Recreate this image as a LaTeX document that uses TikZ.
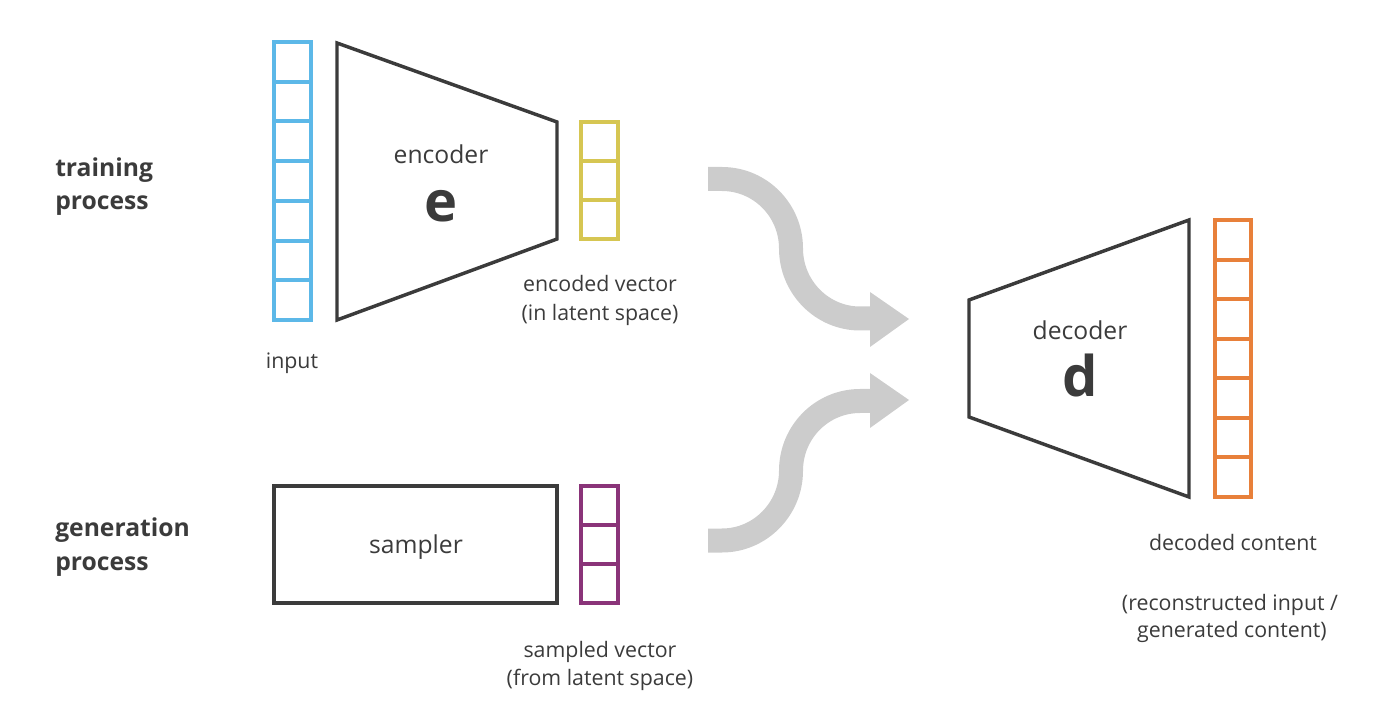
\documentclass[tikz,border=0pt]{standalone}
\usepackage{fontspec}
\setmainfont{Open Sans}
\definecolor{ink}{HTML}{3B3B3B}
\definecolor{cblue}{HTML}{5CB8E8}
\definecolor{cyellow}{HTML}{D6C652}
\definecolor{corange}{HTML}{E8803A}
\definecolor{cpurple}{HTML}{8A3479}
\definecolor{flow}{HTML}{CCCCCC}
\begin{document}
\begin{tikzpicture}[x=0.75pt,y=-0.75pt,
  lbl/.style={text=ink,inner sep=0pt,anchor=base,font=\fontsize{16}{19}\selectfont},
  mainlbl/.style={text=ink,inner sep=0pt,anchor=base,font=\fontsize{18.5}{22}\selectfont},
  biglbl/.style={text=ink,inner sep=0pt,anchor=base,font=\fontsize{42}{48}\selectfont\bfseries},
  proclbl/.style={text=ink,inner sep=0pt,anchor=base west,font=\fontsize{18.5}{22}\selectfont\bfseries},
  block/.style={draw=ink,line width=2.6pt,line join=miter},
  flowline/.style={draw=flow,line width=18pt},
  flowhead/.style={fill=flow,draw=none}]
\useasboundingbox (0,0) rectangle (1389,723);

% ---- vector columns ----
\foreach \name/\col/\xl/\xr/\yt/\yb/\n in {in/cblue/274/311/42/320/7, enc/cyellow/581/618/122/239/3, smp/cpurple/581/618/486/603/3, out/corange/1215/1251/220/497/7}{
  \draw[\col,line width=3pt] (\xl,\yt) rectangle (\xr,\yb);
  \foreach \k in {1,...,\n}{
    \pgfmathsetmacro{\yy}{\yt+(\yb-\yt)*\k/\n}
    \draw[\col,line width=3pt] (\xl,\yy) -- (\xr,\yy);
  }
}

% ---- encoder ----
\coordinate (e1) at (337,43);
\coordinate (e2) at (557,122);
\coordinate (e3) at (557,239);
\coordinate (e4) at (337,320);
\draw[block] (e1) -- (e2) -- (e3) -- (e4) -- cycle;
\node[mainlbl] (enclbl) at (441,164) {encoder};
\node[biglbl] (encsym) at (441,222) {e};

% ---- decoder ----
\coordinate (d1) at (969,300);
\coordinate (d2) at (1189,220);
\coordinate (d3) at (1189,497);
\coordinate (d4) at (969,417);
\draw[block] (d1) -- (d2) -- (d3) -- (d4) -- cycle;
\node[mainlbl] (declbl) at (1080,340) {decoder};
\node[biglbl] (decsym) at (1080,397) {d};

% ---- sampler ----
\draw[block] (274,486) rectangle (557,603);
\node[mainlbl] (smplbl) at (416,553) {sampler};

% ---- labels ----
\node[proclbl] (tr1) at (55,177) {training};
\node[proclbl] (tr2) at (55,210) {process};
\node[proclbl] (gn1) at (55,537) {generation};
\node[proclbl] (gn2) at (55,570) {process};
\node[lbl] (inlbl) at (292,369) {input};
\node[lbl] (ev1) at (600,292) {encoded vector};
\node[lbl] (ev2) at (600,321) {(in latent space)};
\node[lbl] (sv1) at (600,657) {sampled vector};
\node[lbl] (sv2) at (600,685) {(from latent space)};
\node[lbl] (dc1) at (1233,550) {decoded content};
\node[lbl] (dc2) at (1230,610) {(reconstructed input /};
\node[lbl] (dc3) at (1232,637) {generated content)};

% ---- flow arrows ----
\coordinate (ta) at (708,179);
\coordinate (tb) at (722,179);
\coordinate (tm) at (791,248.5);
\coordinate (tc) at (860,318.5);
\coordinate (td) at (872,318.5);
\draw[flowline] (ta) -- (tb) .. controls (760,179) and (791,210) .. (tm)
  .. controls (791,287) and (822,318.5) .. (tc) -- (td);
\fill[flowhead] (870,292) -- (909,319) -- (870,347) -- cycle;

\coordinate (ba) at (708,540.5);
\coordinate (bb) at (722,540.5);
\coordinate (bm) at (791,470.75);
\coordinate (bc) at (860,401);
\coordinate (bd) at (872,401);
\draw[flowline] (ba) -- (bb) .. controls (760,540.5) and (791,509) .. (bm)
  .. controls (791,432) and (822,401) .. (bc) -- (bd);
\fill[flowhead] (870,373) -- (909,400) -- (870,428) -- cycle;
\end{tikzpicture}
\end{document}
